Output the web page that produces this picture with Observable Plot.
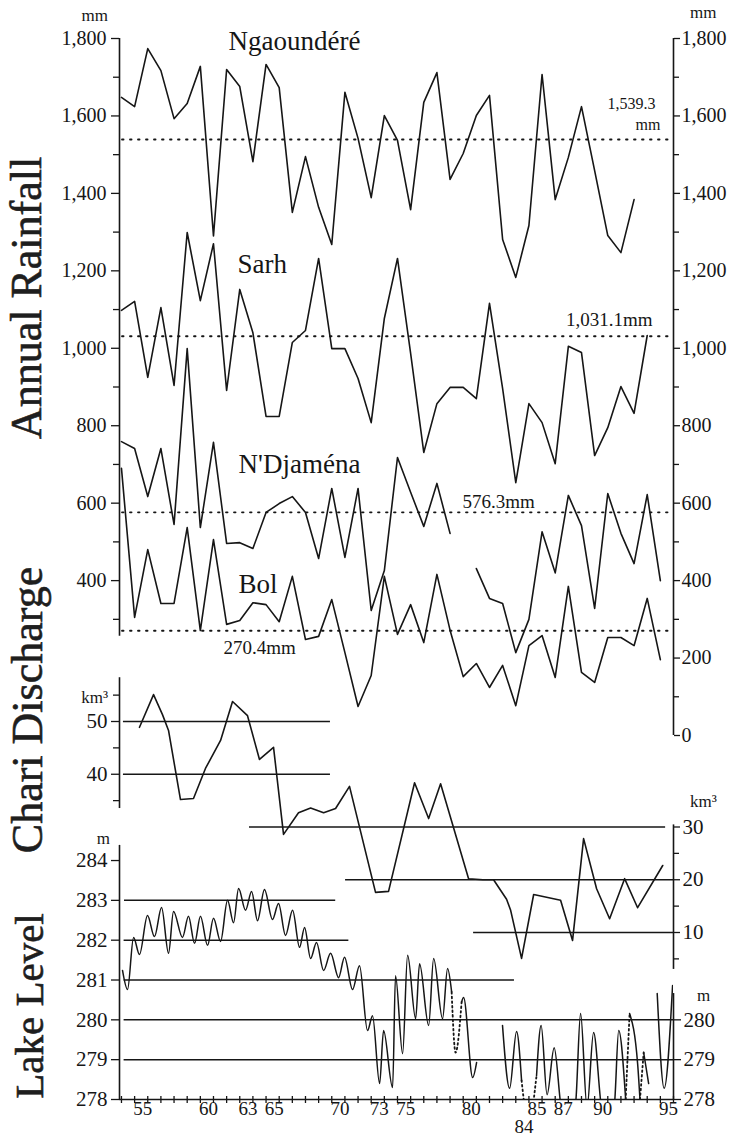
<!DOCTYPE html>
<html><head><meta charset="utf-8">
<script src="https://cdn.jsdelivr.net/npm/d3@7"></script>
<script src="https://cdn.jsdelivr.net/npm/@observablehq/plot@0.6"></script>
<style>
body{margin:0;background:#fff;}
#chart{position:relative;width:733px;height:1143px;overflow:hidden;font-family:"Liberation Serif","Times New Roman",serif;color:#161616;background:#fff;}
#chart svg{position:absolute;left:0;top:0;}
.unit{position:absolute;white-space:nowrap;line-height:1;font-size:18px;transform:translateY(-50%);}
.title{position:absolute;white-space:nowrap;line-height:1;transform:translate(-50%,-50%) rotate(-90deg);color:#1e1e1e;-webkit-text-stroke:0.6px #1e1e1e;}
</style></head><body><div id="chart"></div>
<script>
// ---------- data ----------
const xDomain = [52.85, 95];
const rainYears = [53,54,55,56,57,58,59,60,61,62,63,64,65,66,67,68,69,70,71,72,73,74,75,76,77,78,79,80,81,82,83,84,85,86,87,88,89,90,91,92,93,94];
const stationNames = ["Ngaoundéré", "Sarh", "N'Djaména", "Bol"];
const ngaoundereMm = [1648,1624,1774,1717,1593,1632,1728,1290,1720,1676,1482,1733,1673,1351,1495,1364,1268,1661,1542,1389,1601,1537,1358,1635,1712,1436,1503,1601,1653,1281,1183,1317,1707,1384,1493,1624,1459,1291,1247,1384,null,null];
const sarhMm = [1098,1121,925,1105,904,1299,1123,1270,891,1152,1040,824,824,1015,1046,1232,999,999,922,808,1077,1232,987,731,857,899,899,870,1116,896,653,857,808,702,1005,989,723,795,901,832,1033,null];
const ndjamenaMm = [759,741,617,741,545,999,537,757,496,498,483,576,599,617,576,457,638,460,638,323,426,718,628,540,651,522,null,431,354,341,214,300,526,420,620,542,328,625,522,444,622,400];
const bolMm = [690,305,480,341,341,537,271,506,287,297,343,338,294,411,248,256,351,214,75,155,411,261,338,240,416,272,152,186,124,181,77,232,258,150,385,163,137,253,253,232,354,196];
const rainMeanMm = [1539.3, 1031.1, 576.3, 270.4];
const rainLeftTicks = [400,600,800,1000,1200,1400,1600,1800];
const rainLeftMinor = [300,500,700,900,1100,1300,1500,1700];
const rainRightTicks = [0,200,400,600,800,1000,1200,1400,1600,1800];
const rainRightMinor = [100,300,500,700,900,1100,1300,1500,1700];

const dischargeSeason = [54.37,55.44,56.12,56.58,57.49,58.48,59.39,60.54,61.45,62.59,63.50,64.57,65.33,66.47,67.39,68.38,69.29,70.35,72.33,73.32,75.30,76.37,77.28,79.41,80.50,81.31,82.30,82.61,83.44,84.36,86.41,87.32,88.16,89.15,90.14,91.28,92.27,94.18];
const dischargeKm3 = [48.9,55.1,51.3,48.3,35.2,35.4,41.1,46.4,53.8,51.1,42.8,45.1,28.6,32.7,33.6,32.7,33.5,37.7,17.6,17.8,38.4,31.6,38.2,20.2,20.0,20.0,16.3,14.2,5.1,17.2,16.1,8.5,27.8,18.3,12.6,20.2,14.7,22.7];
const dischargeRefKm3 = [50, 40, 30, 20, 10];
const dischargeRefFrom = [53.15, 53.15, 62.74, 70.05, 79.79];
const dischargeRefTo = [68.9, 68.9, 94.4, 95, 95];
const dischargeLeftTicks = [40, 50];
const dischargeLeftMinor = [35, 45, 55];
const dischargeRightTicks = [10, 20, 30];
const dischargeRightMinor = [5, 15, 25];

const lakeSolid1 = [[53.08,281.24],[53.46,280.76],[53.92,282.07],[54.37,281.64],[54.98,282.62],[55.51,282.09],[56.05,282.82],[56.58,281.67],[56.96,282.72],[57.64,282.07],[58.10,282.60],[58.56,281.92],[59.01,282.60],[59.55,281.87],[60.00,282.55],[60.54,281.97],[61.07,283.00],[61.53,282.44],[61.91,283.30],[62.44,282.75],[62.90,283.22],[63.35,282.49],[63.88,283.27],[64.49,282.52],[64.95,282.92],[65.48,282.12],[66.02,282.75],[66.55,281.82],[66.93,282.32],[67.39,281.54],[67.84,281.94],[68.38,281.24],[68.91,281.67],[69.52,281.06],[69.97,281.57],[70.58,280.76],[71.11,281.36],[71.72,279.73],[72.10,280.10],[72.64,278.40],[72.94,279.73],[73.63,278.30],[73.85,281.11],[74.39,279.15],[74.77,281.62],[75.38,280.03],[75.68,281.41],[76.37,279.86],[76.75,281.54],[77.43,280.03],[77.81,281.29],[78.12,280.70]];
const lakeDotted1 = [[78.12,280.70],[78.42,279.18],[78.88,280.45]];
const lakeSolid2 = [[78.88,280.45],[79.03,280.56],[79.72,278.55],[80.02,278.93]];
const lakeSolid3 = [[81.99,279.86],[82.53,278.28],[83.06,279.71],[83.44,278.48]];
const lakeDotted2 = [[83.44,278.48],[83.62,277.95]];
const lakeDotted3 = [[84.35,277.95],[84.58,278.60]];
const lakeSolid4 = [[84.58,278.60],[84.93,279.86],[85.38,278.12],[85.92,279.30],[86.45,277.8],[87.0,277.3],[87.55,277.9],[87.93,280.16],[88.42,277.8],[88.92,279.68],[89.5,277.85],[90.0,277.3],[90.5,277.85],[90.83,279.73],[91.36,278.0]];
const lakeDotted4 = [[91.36,278.0],[91.66,280.16]];
const lakeSolid5 = [[91.66,280.16],[92.27,278.9],[92.45,278.0]];
const lakeDotted5 = [[92.45,278.0],[92.73,279.18]];
const lakeSolid6 = [[92.73,279.18],[93.11,278.4]];
const lakeSolid7 = [[93.76,280.66],[94.29,278.28],[94.93,280.86]];
const lakeRefM = [283, 282, 281, 280, 279];
const lakeRefFrom = [53.23, 53.2, 53.2, 53.2, 53.2];
const lakeRefTo = [69.3, 70.3, 82.9, 95, 95];
const lakeLeftTicks = [278,279,280,281,282,283,284];
const lakeRightTicks = [278,279,280];

const yearTicks = [53,54,55,56,57,58,59,60,61,62,63,64,65,66,67,68,69,70,71,72,73,74,75,76,77,78,79,80,81,82,83,84,85,86,87,88,89,90,91,92,93,94,95];
const yearLabels = [55,60,63,65,70,73,75,80,84,85,87,90,95];

// ---------- build ----------
const ink = "#161616";
const fmt = d3.format(",");
const blank = () => "";
const style = {background: "none", overflow: "visible", fontFamily: "'Liberation Serif','Times New Roman',serif", color: ink};
const base = {width: 733, height: 1143, marginLeft: 119, marginRight: 60, style};

const rainSeries = [ngaoundereMm, sarhMm, ndjamenaMm, bolMm];
const rainRows = rainSeries.flatMap((vals, i) => rainYears.map((yr, j) => ({station: stationNames[i], year: yr, mm: vals[j] == null ? NaN : vals[j]})));
const meanRows = rainMeanMm.map((m, i) => ({station: stationNames[i], mm: m}));

const rain = Plot.plot({
  ...base, marginTop: 38, marginBottom: 408,
  x: {domain: xDomain, axis: null},
  y: {domain: [0, 1800], label: null},
  marks: [
    Plot.ruleY(meanRows, {y: "mm", x1: 53.08, x2: 95, stroke: ink, strokeWidth: 1.9, strokeDasharray: "1.5,6.5", strokeLinecap: "round"}),
    Plot.line(rainRows, {x: "year", y: "mm", z: "station", stroke: ink, strokeWidth: 1.6}),
    Plot.ruleX([xDomain[0]], {y1: 256, y2: 1800, stroke: ink, strokeWidth: 1.6}),
    Plot.ruleX([xDomain[1]], {y1: 0, y2: 1800, stroke: ink, strokeWidth: 1.6}),
    Plot.axisY({anchor: "left", ticks: rainLeftTicks, tickFormat: fmt, tickSize: 8, tickPadding: 5, fontSize: 20, label: null, strokeWidth: 1.3}),
    Plot.axisY({anchor: "left", ticks: rainLeftMinor, tickFormat: blank, tickSize: 6, label: null, strokeWidth: 1.3}),
    Plot.axisY({anchor: "right", ticks: rainRightTicks, tickFormat: fmt, tickSize: 6, tickPadding: 2, fontSize: 20, label: null, strokeWidth: 1.3}),
    Plot.axisY({anchor: "right", ticks: rainRightMinor, tickFormat: blank, tickSize: 5, label: null, strokeWidth: 1.3}),
    Plot.text([stationNames[0]], {x: 61.15, y: 1792, text: d => d, textAnchor: "start", fontSize: 27, fill: ink}),
    Plot.text([stationNames[1]], {x: 61.83, y: 1216, text: d => d, textAnchor: "start", fontSize: 27, fill: ink}),
    Plot.text([stationNames[2]], {x: 61.91, y: 700, text: d => d, textAnchor: "start", fontSize: 27, fill: ink}),
    Plot.text([stationNames[3]], {x: 61.91, y: 391, text: d => d, textAnchor: "start", fontSize: 27, fill: ink}),
    Plot.text([fmt(rainMeanMm[0])], {x: 93.64, y: 1630, text: d => d, textAnchor: "end", fontSize: 16, fill: ink}),
    Plot.text(["mm"], {x: 94.0, y: 1578, text: d => d, textAnchor: "end", fontSize: 16, fill: ink}),
    Plot.text([fmt(rainMeanMm[1]) + "mm"], {x: 93.41, y: 1072, text: d => d, textAnchor: "end", fontSize: 19, fill: ink}),
    Plot.text([rainMeanMm[2] + "mm"], {x: 78.95, y: 602, text: d => d, textAnchor: "start", fontSize: 19, fill: ink}),
    Plot.text([rainMeanMm[3] + "mm"], {x: 60.76, y: 227, text: d => d, textAnchor: "start", fontSize: 19, fill: ink})
  ]
});

const dischargeRows = dischargeSeason.map((t, i) => ({season: t, km3: dischargeKm3[i]}));
const dischargeRefRows = dischargeRefKm3.map((v, i) => ({km3: v, from: dischargeRefFrom[i], to: dischargeRefTo[i]}));
const discharge = Plot.plot({
  ...base, marginTop: 668.25, marginBottom: 158.25,
  x: {domain: xDomain, axis: null},
  y: {domain: [0, 60], label: null},
  marks: [
    Plot.ruleY(dischargeRefRows, {y: "km3", x1: "from", x2: "to", stroke: ink, strokeWidth: 1.5}),
    Plot.line(dischargeRows, {x: "season", y: "km3", stroke: ink, strokeWidth: 1.6}),
    Plot.ruleX([xDomain[0]], {y1: 33.5, y2: 58.3, stroke: ink, strokeWidth: 1.6}),
    Plot.ruleX([xDomain[1]], {y1: 3, y2: 30.4, stroke: ink, strokeWidth: 1.6}),
    Plot.axisY({anchor: "left", ticks: dischargeLeftTicks, tickFormat: fmt, tickSize: 8, tickPadding: 4, fontSize: 21, label: null, strokeWidth: 1.3}),
    Plot.axisY({anchor: "left", ticks: dischargeLeftMinor, tickFormat: blank, tickSize: 6, label: null, strokeWidth: 1.3}),
    Plot.axisY({anchor: "right", ticks: dischargeRightTicks, tickFormat: fmt, tickSize: 6, tickPadding: 3, fontSize: 21, label: null, strokeWidth: 1.3}),
    Plot.axisY({anchor: "right", ticks: dischargeRightMinor, tickFormat: blank, tickSize: 5, label: null, strokeWidth: 1.3})
  ]
});

const segRows = (pts, id) => pts.map(([t, m]) => ({seg: id, t, level: m}));
const lakeSolidRows = [lakeSolid1, lakeSolid2, lakeSolid3, lakeSolid4, lakeSolid5, lakeSolid6, lakeSolid7].flatMap((p, i) => segRows(p, "s" + i));
const lakeDottedRows = [lakeDotted1, lakeDotted2, lakeDotted3, lakeDotted4, lakeDotted5].flatMap((p, i) => segRows(p, "d" + i));
const lakeRefRows = lakeRefM.map((v, i) => ({level: v, from: lakeRefFrom[i], to: lakeRefTo[i]}));
const lake = Plot.plot({
  ...base, marginTop: 844.1, marginBottom: 44,
  x: {domain: xDomain, label: null},
  y: {domain: [278, 284.4], label: null},
  marks: [
    Plot.ruleY(lakeRefRows, {y: "level", x1: "from", x2: "to", stroke: ink, strokeWidth: 1.5}),
    Plot.line(lakeSolidRows, {x: "t", y: "level", z: "seg", curve: "monotone-x", stroke: ink, strokeWidth: 1.5, clip: true}),
    Plot.line(lakeDottedRows, {x: "t", y: "level", z: "seg", curve: "monotone-x", stroke: ink, strokeWidth: 1.8, strokeDasharray: "1.6,3", clip: true}),
    Plot.ruleY([278], {stroke: ink, strokeWidth: 1.6}),
    Plot.ruleX([xDomain[0]], {y1: 278, y2: 284.38, stroke: ink, strokeWidth: 1.6}),
    Plot.ruleX([xDomain[1]], {y1: 278, y2: 280.66, stroke: ink, strokeWidth: 1.6}),
    Plot.axisY({anchor: "left", ticks: lakeLeftTicks, tickFormat: d => String(d), tickSize: 8, tickPadding: 4, fontSize: 21, label: null, strokeWidth: 1.3}),
    Plot.axisY({anchor: "right", ticks: lakeRightTicks, tickFormat: d => String(d), tickSize: 7, tickPadding: 3, fontSize: 21, label: null, strokeWidth: 1.3}),
    Plot.axisX({anchor: "bottom", ticks: yearTicks, tickFormat: blank, tickSize: 7, dy: -3, label: null, strokeWidth: 1.3}),
    Plot.axisX({anchor: "bottom", ticks: yearLabels, tickFormat: d => d === 84 ? "\n84" : String(d), tickSize: 0, tickPadding: 3, dx: -5, fontSize: 19, lineHeight: 0.95, label: null})
  ]
});

const chart = document.getElementById("chart");
chart.append(rain, discharge, lake);

function addHtml(cls, text, css) {
  const el = document.createElement("div");
  el.className = cls;
  el.textContent = text;
  Object.assign(el.style, css);
  chart.append(el);
}
addHtml("title", "Annual Rainfall", {left: "27px", top: "298px", fontSize: "44px"});
addHtml("title", "Chari Discharge", {left: "28px", top: "710px", fontSize: "44px"});
addHtml("title", "Lake Level", {left: "29px", top: "1006px", fontSize: "41px"});
addHtml("unit", "mm", {right: (733 - 108) + "px", top: "15px", fontSize: "17px"});
addHtml("unit", "mm", {left: "690px", top: "12px", fontSize: "17px"});
addHtml("unit", "km³", {right: (733 - 108) + "px", top: "697px", fontSize: "17px"});
addHtml("unit", "km³", {left: "690px", top: "801px", fontSize: "17px"});
addHtml("unit", "m", {right: (733 - 110) + "px", top: "838px", fontSize: "17px"});
addHtml("unit", "m", {left: "697px", top: "995px", fontSize: "17px"});
</script></body></html>
